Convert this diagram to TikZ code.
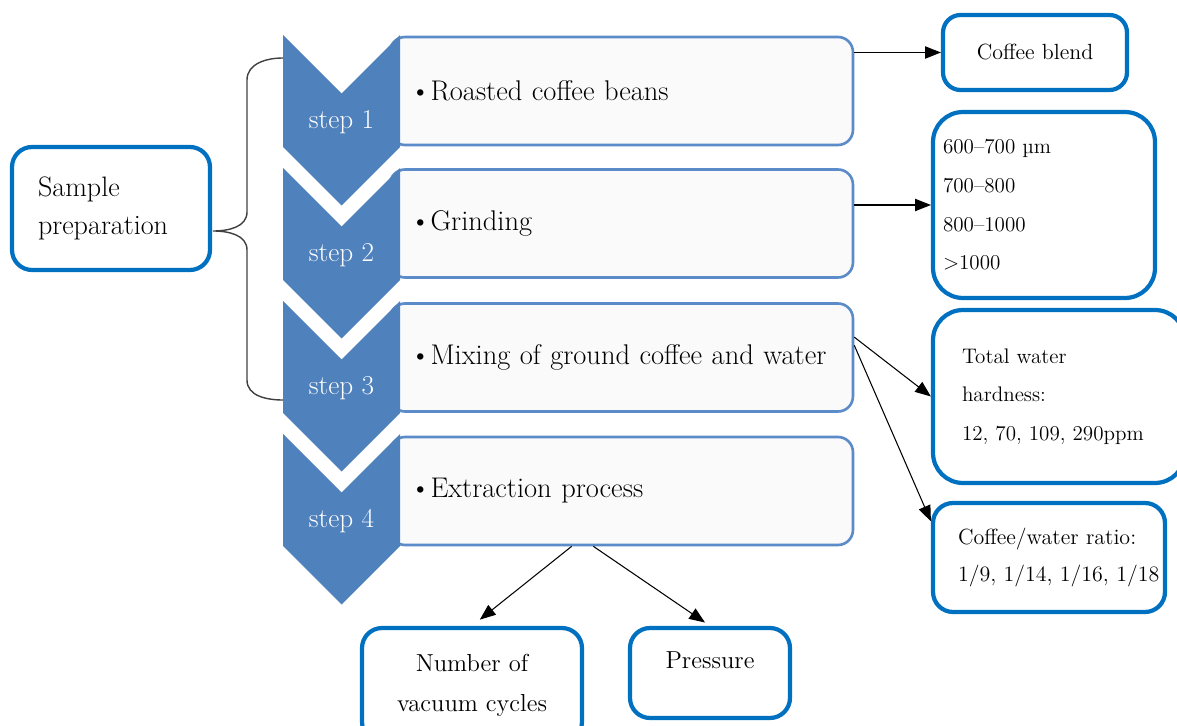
\documentclass[tikz,border=0pt]{standalone}
\usetikzlibrary{arrows.meta}

\definecolor{chevblue}{HTML}{4F81BD}
\definecolor{boxblue}{HTML}{5B8BC9}
\definecolor{infoblue}{HTML}{0070C0}
\definecolor{bracegray}{HTML}{404040}

\begin{document}
\begin{tikzpicture}[x=0.02cm, y=0.02cm,
    stepbox/.style={draw=boxblue, line width=1.5pt, fill=white!98!black,
      rounded corners=0.3cm, minimum width=9.26cm, minimum height=2.16cm,
      text width=8.46cm, inner xsep=0.4cm, align=left,
      font=\fontsize{16.2}{19}\selectfont},
    steplabel/.style={text=white, font=\fontsize{15.5}{18}\selectfont},
    infobox/.style={draw=infoblue, line width=2.4pt, fill=white,
      rounded corners=0.4cm, font=\fontsize{12}{22}\selectfont},
    conn/.style={draw=black, line width=0.6pt, -{Triangle[length=9pt,width=7pt]}},
    bracepath/.style={draw=bracegray, line width=0.8pt}]
  \useasboundingbox (0,0) rectangle (1177,-726);

  \node[stepbox] (s1) at (621.5,-91) {\textbullet Roasted coffee beans};
  \node[stepbox] (s2) at (621.5,-223.5) {\textbullet Grinding};
  \node[stepbox] (s3) at (621.5,-357.5) {\mbox{\textbullet Mixing of ground coffee and water}};
  \node[stepbox] (s4) at (621.5,-491) {\textbullet Extraction process};

  \foreach \i/\t in {1/35,2/168,3/301,4/434} {
    \fill[chevblue] (283,-\t) -- (341.5,-\t-58.5) -- (400,-\t) -- (400,-\t-112)
      -- (341.5,-\t-170.5) -- (283,-\t-112) -- cycle;
    \node[steplabel] (c\i) at (341.5,-\t-87) {step \i};
  }

  \node[infobox, minimum width=3.96cm, minimum height=2.46cm, text width=2.92cm,
    inner xsep=0.52cm, align=left, font=\fontsize{16}{21.6}\selectfont]
    (prep) at (111,-208.5) {Sample\\preparation};

  \node[infobox, minimum width=3.68cm, minimum height=1.5cm, rounded corners=0.35cm,
    font=\fontsize{12.5}{22}\selectfont]
    (blend) at (1035,-52.5) {Coffee blend};
  \node[infobox, minimum width=4.44cm, minimum height=3.72cm, text width=4.04cm,
    inner xsep=0.2cm, align=left, rounded corners=0.6cm]
    (sizes) at (1044,-205) {600--700~µm\\700--800\\800--1000\\>1000};
  \node[infobox, minimum width=5.04cm, minimum height=3.46cm, text width=3.88cm,
    inner xsep=0.58cm, align=left, rounded corners=0.6cm]
    (hard) at (1059,-396.5) {Total water\\hardness:\\12,~70,~109,~290ppm};
  \node[infobox, minimum width=4.64cm, minimum height=2.18cm, text width=3.64cm,
    inner xsep=0.5cm, align=left, font=\fontsize{12.5}{21.6}\selectfont]
    (ratio) at (1049,-557.5) {Coffee/water~ratio:\\1/9,~1/14,~1/16,~1/18};

  \node[infobox, minimum width=4.4cm, minimum height=2.28cm, align=center,
    font=\fontsize{14}{22.8}\selectfont]
    (cycles) at (472,-685) {Number of\\vacuum cycles};
  \node[infobox, minimum width=3.2cm, minimum height=1.8cm, text depth=0.5cm,
    font=\fontsize{14}{22.8}\selectfont]
    (press) at (710,-673) {Pressure};

  \coordinate (bt) at (283,-58);
  \coordinate (tip) at (213,-231);
  \coordinate (bb) at (283,-400);
  \draw[bracepath] (bt) to[out=180,in=90] (247,-80) -- (247,-212)
    to[out=-90,in=0] (tip) to[out=0,in=90] (247,-250) -- (247,-380)
    to[out=-90,in=180] (bb);

  \draw[conn] (s1.east |- blend) -- (blend);
  \draw[conn] (s2.east |- sizes) -- (sizes);
  \draw[conn] (s3.5) -- (hard.west);
  \draw[conn] (s3.3) -- (ratio.163);
  \draw[conn, shorten >=0.2cm] (s4.-132) -- (cycles.north);
  \draw[conn, shorten >=0.12cm] (s4.-117) -- (press.north);
\end{tikzpicture}
\end{document}
